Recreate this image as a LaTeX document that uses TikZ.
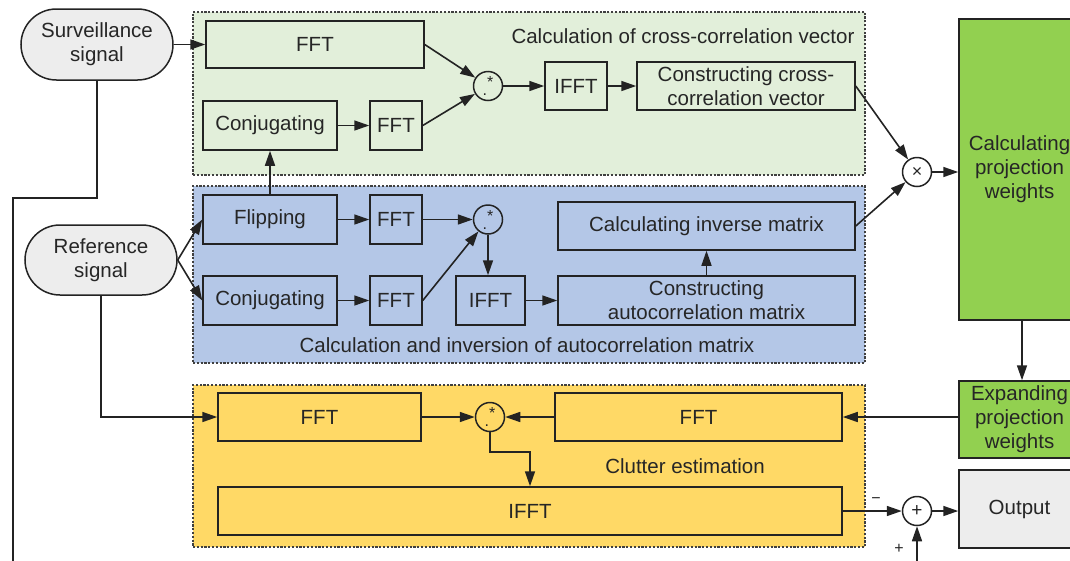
\documentclass[tikz,border=0pt]{standalone}
\usepackage{fontspec}
\setmainfont{Liberation Sans}
\usetikzlibrary{shapes.misc,arrows.meta,calc}
\definecolor{lgreen}{RGB}{226,239,218}
\definecolor{lblue}{RGB}{180,199,231}
\definecolor{lyellow}{RGB}{255,217,102}
\definecolor{bgreen}{RGB}{146,208,80}
\definecolor{lgray}{RGB}{237,237,237}
\definecolor{edge}{RGB}{35,35,35}
\begin{document}
\begin{tikzpicture}[x=1pt,y=-1pt,
  every node/.style={font=\fontsize{20.5}{24}\selectfont, text=black!85},
  blk/.style={draw=edge, line width=1.5pt, rectangle, inner sep=0pt, align=center},
  term/.style={draw=edge, line width=1.5pt, rounded rectangle, fill=lgray, inner sep=0pt, align=center},
  region/.style={draw=black!75, line width=1.2pt, dash pattern=on 2.2pt off 1.6pt, rectangle, inner sep=0pt},
  opc/.style={draw=edge, line width=1.5pt, circle, minimum size=29pt, inner sep=0pt},
  mulsym/.style={font=\fontsize{16}{16}\selectfont},
  arr/.style={draw=edge, line width=1.6pt, -{Triangle[length=15pt,width=10pt]}},
  ln/.style={draw=edge, line width=1.6pt}
]
\useasboundingbox (0,0) rectangle (1070,560);
% regions
\node[region, fill=lgreen, minimum width=672pt, minimum height=163pt] (rg) at (529,93.5) {};
\node[region, fill=lblue, minimum width=672pt, minimum height=177pt] (rb) at (529,274.5) {};
\node[region, fill=lyellow, minimum width=672pt, minimum height=162pt] (ry) at (529,466) {};
\node (t1) at (683,36) {Calculation of cross-correlation vector};
\node (t2) at (527,345) {Calculation and inversion of autocorrelation matrix};
\node (t3) at (685,466) {Clutter estimation};
% terminals
\node[term, minimum width=152pt, minimum height=71pt] (surv) at (97,44.5) {Surveillance\\signal};
\node[term, minimum width=152pt, minimum height=70pt] (ref) at (101,260) {Reference\\signal};
% green blocks
\node[blk, fill=lgreen, minimum width=218pt, minimum height=47pt] (fft1) at (315,44.5) {FFT};
\node[blk, fill=lgreen, minimum width=134pt, minimum height=49pt] (conj1) at (270,125.5) {Conjugating};
\node[blk, fill=lgreen, minimum width=52pt, minimum height=49pt] (fft2) at (396,125.5) {FFT};
\node[opc, mulsym] (mul1) at (488,86) {\raisebox{-5pt}{.}\raisebox{3pt}{*}};
\node[blk, fill=lgreen, minimum width=62pt, minimum height=48pt] (ifft1) at (576,86) {IFFT};
\node[blk, fill=lgreen, minimum width=218pt, minimum height=48pt] (cons1) at (746,86) {Constructing cross-\\correlation vector};
\node[opc, font=\fontsize{18}{18}\selectfont] (times) at (917,172) {×};
\node[blk, fill=bgreen, minimum width=121pt, minimum height=301pt] (calcw) at (1019.5,169.5) {Calculating\\projection\\weights};
% blue blocks
\node[blk, fill=lblue, minimum width=134pt, minimum height=49pt] (flip) at (270,219.5) {Flipping};
\node[blk, fill=lblue, minimum width=52pt, minimum height=49pt] (fft3) at (396,219.5) {FFT};
\node[opc, mulsym] (mul2) at (488,219.5) {\raisebox{-5pt}{.}\raisebox{3pt}{*}};
\node[blk, fill=lblue, minimum width=297pt, minimum height=48pt] (inv) at (706.5,226) {Calculating inverse matrix};
\node[blk, fill=lblue, minimum width=134pt, minimum height=49pt] (conj2) at (270,300.5) {Conjugating};
\node[blk, fill=lblue, minimum width=52pt, minimum height=49pt] (fft4) at (396,300.5) {FFT};
\node[blk, fill=lblue, minimum width=69pt, minimum height=49pt] (ifft2) at (490.5,300.5) {IFFT};
\node[blk, fill=lblue, minimum width=297pt, minimum height=49pt] (auto) at (706.5,300.5) {Constructing\\autocorrelation matrix};
% yellow blocks
\node[blk, fill=lyellow, minimum width=203pt, minimum height=48pt] (fft5) at (319.5,417) {FFT};
\node[opc, mulsym] (mul3) at (490,417) {\raisebox{-5pt}{.}\raisebox{3pt}{*}};
\node[blk, fill=lyellow, minimum width=287pt, minimum height=48pt] (fft6) at (698.5,417) {FFT};
\node[blk, fill=lyellow, minimum width=624pt, minimum height=48pt] (ifft3) at (530,511) {IFFT};
% right column
\node[blk, fill=bgreen, minimum width=121pt, minimum height=77pt] (expd) at (1019.5,419.5) {Expanding\\projection\\weights};
\node[opc, font=\fontsize{19}{19}\selectfont] (plus) at (917,511) {+};
\node[blk, fill=lgray, minimum width=121pt, minimum height=78pt] (out) at (1019.5,509) {Output};
\node[font=\fontsize{16}{16}\selectfont] (minus) at (876,501) {−};
\node[font=\fontsize{16}{16}\selectfont] (plab) at (899,549) {+};
% coordinates
\coordinate (s1) at (97,198);
\coordinate (s2) at (13,198);
\coordinate (s3) at (13,565);
\coordinate (pb) at (917,565);
\coordinate (m3) at (490,452);
% connectors
\draw[arr] (surv.east) -- (surv.east -| fft1.west);
\draw[ln] (surv.south) -- (s1) -- (s2) -- (s3);
\draw[arr] (pb) -- (plus.south);
\draw[arr] (fft1.east) -- (mul1);
\draw[arr] (conj1.east) -- (fft2.west);
\draw[arr] (fft2.east) -- (mul1);
\draw[arr] (mul1) -- (ifft1.west);
\draw[arr] (ifft1.east) -- (cons1.west);
\draw[arr] (cons1.east) -- (times);
\draw[arr] (inv.east) -- (times);
\draw[arr] (times) -- (times -| calcw.west);
\draw[arr] (flip.north) -- (conj1.south);
\draw[arr] (ref.east) -- (flip.west);
\draw[arr] (ref.east) -- (conj2.west);
\draw[arr] (flip.east) -- (fft3.west);
\draw[arr] (fft3.east) -- (mul2);
\draw[arr] (conj2.east) -- (fft4.west);
\draw[arr] (fft4.east) -- (mul2);
\draw[arr] (mul2) -- (mul2 |- ifft2.north);
\draw[arr] (ifft2.east) -- (auto.west);
\draw[arr] (auto.north) -- (inv.south);
\draw[arr] (ref.south) |- (fft5.west);
\draw[arr] (fft5.east) -- (mul3);
\draw[arr] (fft6.west) -- (mul3);
\draw[arr] (mul3.south) -- (m3) -| (ifft3.north);
\draw[arr] (calcw.south -| 1022,0) -- (expd.north -| 1022,0);
\draw[arr] (expd.west |- fft6.east) -- (fft6.east);
\draw[arr] (ifft3.east) -- (plus);
\draw[arr] (plus) -- (plus -| out.west);
\end{tikzpicture}
\end{document}
